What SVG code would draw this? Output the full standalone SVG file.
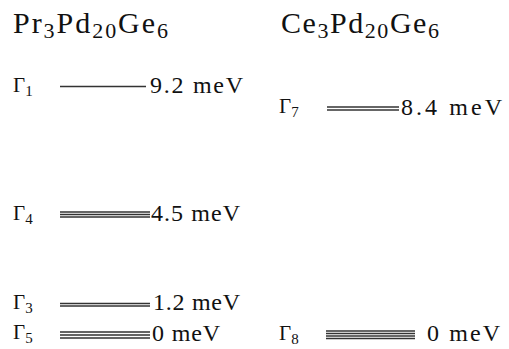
<svg xmlns="http://www.w3.org/2000/svg" width="509" height="349" viewBox="0 0 509 349">
<style>
text{font-family:"Liberation Serif","Times New Roman",serif;fill:#111}
.title{font-size:30px}
.g{font-size:21px}
.v{font-size:24px}
.lv line{stroke:#333;stroke-width:1.3}
</style>
<rect width="509" height="349" fill="#fff"/>
<g id="title-pr"><text class="title" x="13" y="33" textLength="155">Pr<tspan font-size="22" dy="5">3</tspan><tspan dy="-5">Pd</tspan><tspan font-size="22" dy="5">20</tspan><tspan dy="-5">Ge</tspan><tspan font-size="22" dy="5">6</tspan></text></g>
<g id="title-ce"><text class="title" x="281" y="33" textLength="158">Ce<tspan font-size="22" dy="5">3</tspan><tspan dy="-5">Pd</tspan><tspan font-size="22" dy="5">20</tspan><tspan dy="-5">Ge</tspan><tspan font-size="22" dy="5">6</tspan></text></g>
<g class="lv">
<g id="G1"><text class="g" x="13" y="92">Γ<tspan font-size="15" dy="4">1</tspan></text><line x1="60" y1="86.5" x2="146" y2="86.5"/><text class="v" x="150" y="93" textLength="93">9.2 meV</text></g>
<g id="G4"><text class="g" x="13" y="220">Γ<tspan font-size="15" dy="4">4</tspan></text><line x1="60" y1="212" x2="150" y2="212"/><line x1="60" y1="214.5" x2="150" y2="214.5"/><line x1="60" y1="217" x2="150" y2="217"/><text class="v" x="151" y="221" textLength="89">4.5 meV</text></g>
<g id="G3"><text class="g" x="13" y="309">Γ<tspan font-size="15" dy="4">3</tspan></text><line x1="60" y1="303.5" x2="150" y2="303.5"/><line x1="60" y1="306" x2="150" y2="306"/><text class="v" x="153" y="310" textLength="87">1.2 meV</text></g>
<g id="G5"><text class="g" x="13" y="339">Γ<tspan font-size="15" dy="4">5</tspan></text><line x1="60" y1="332" x2="150" y2="332"/><line x1="60" y1="335" x2="150" y2="335"/><line x1="60" y1="338" x2="150" y2="338"/><text class="v" x="152" y="341" textLength="68">0 meV</text></g>
<g id="G7"><text class="g" x="279" y="113">Γ<tspan font-size="15" dy="4">7</tspan></text><line x1="327" y1="107" x2="399" y2="107"/><line x1="327" y1="110" x2="399" y2="110"/><text class="v" x="401" y="115" textLength="101">8.4 meV</text></g>
<g id="G8"><text class="g" x="279" y="340">Γ<tspan font-size="15" dy="4">8</tspan></text><line x1="326" y1="331" x2="415" y2="331"/><line x1="326" y1="333.5" x2="415" y2="333.5"/><line x1="326" y1="336" x2="415" y2="336"/><line x1="326" y1="338.5" x2="415" y2="338.5"/><text class="v" x="427" y="341" textLength="73">0 meV</text></g>
</g>
</svg>
